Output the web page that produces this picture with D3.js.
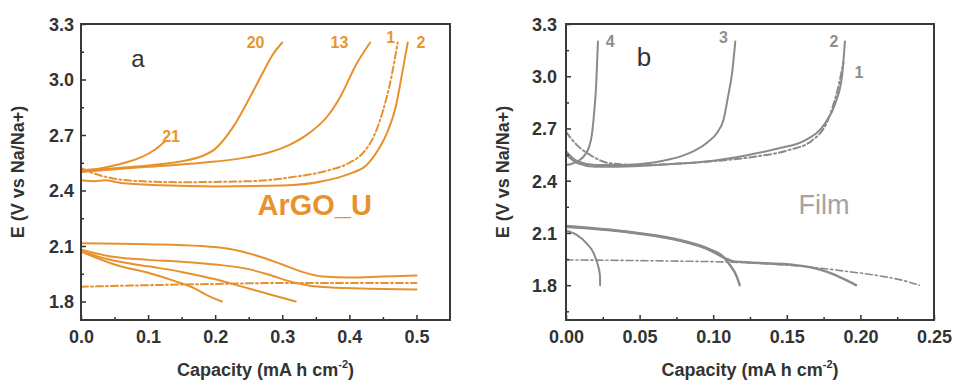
<!DOCTYPE html>
<html>
<head>
<meta charset="utf-8">
<script src="https://cdn.jsdelivr.net/npm/d3@7"></script>
<style>
  html, body { margin: 0; padding: 0; background: #fff; }
  svg { display: block; font-family: "Liberation Sans", Arial, sans-serif; }
</style>
</head>
<body>
<svg id="chart" width="959" height="386"></svg>
<script>
// ---------- Panel a (ArGO_U) data: [capacity, E] ----------
const aCharge1 = [[0,2.52],[0.03,2.48],[0.08,2.452],[0.15,2.445],[0.25,2.45],[0.32,2.475],[0.37,2.51],[0.40,2.55],[0.422,2.61],[0.436,2.69],[0.45,2.83],[0.463,3.02],[0.472,3.2]];
const aCharge2 = [[0,2.455],[0.02,2.45],[0.035,2.455],[0.06,2.44],[0.12,2.428],[0.2,2.422],[0.3,2.427],[0.36,2.45],[0.40,2.49],[0.425,2.535],[0.443,2.62],[0.456,2.71],[0.469,2.85],[0.479,3.04],[0.487,3.2]];
const aCharge13 = [[0,2.5],[0.05,2.515],[0.1,2.528],[0.18,2.55],[0.24,2.575],[0.28,2.605],[0.31,2.645],[0.34,2.71],[0.367,2.80],[0.387,2.91],[0.41,3.08],[0.431,3.2]];
const aCharge20 = [[0,2.51],[0.05,2.52],[0.1,2.535],[0.15,2.558],[0.18,2.585],[0.2,2.625],[0.227,2.745],[0.252,2.905],[0.27,3.03],[0.285,3.13],[0.30,3.2]];
const aCharge21 = [[0,2.5],[0.03,2.52],[0.06,2.545],[0.09,2.58],[0.11,2.62],[0.125,2.665]];
const aDisch1 = [[0,1.88],[0.1,1.888],[0.2,1.895],[0.3,1.9],[0.4,1.9],[0.5,1.9]];
const aDischTop = [[0,2.115],[0.1,2.11],[0.18,2.1],[0.22,2.085],[0.26,2.05],[0.30,2.0],[0.33,1.96],[0.36,1.935],[0.4,1.93],[0.45,1.935],[0.5,1.94]];
const aDischB = [[0,2.08],[0.05,2.04],[0.1,2.025],[0.15,2.015],[0.2,2.0],[0.25,1.975],[0.28,1.945],[0.32,1.9],[0.36,1.878],[0.42,1.87],[0.5,1.865]];
const aDischC = [[0,2.07],[0.05,2.02],[0.1,1.99],[0.15,1.96],[0.2,1.92],[0.25,1.87],[0.29,1.83],[0.32,1.80]];
const aDischD = [[0,2.07],[0.05,2.0],[0.1,1.955],[0.14,1.91],[0.17,1.87],[0.19,1.83],[0.21,1.80]];

// ---------- Panel b (Film) data ----------
const bCharge1 = [[0,2.68],[0.008,2.60],[0.016,2.55],[0.03,2.50],[0.05,2.49],[0.08,2.50],[0.11,2.52],[0.13,2.54],[0.151,2.575],[0.167,2.63],[0.178,2.75],[0.185,2.94],[0.1885,3.08]];
const bCharge2 = [[0,2.55],[0.008,2.50],[0.02,2.48],[0.05,2.485],[0.08,2.50],[0.1,2.515],[0.122,2.545],[0.144,2.585],[0.162,2.63],[0.176,2.73],[0.183,2.845],[0.1875,3.0],[0.1895,3.2]];
const bCharge3 = [[0,2.57],[0.008,2.51],[0.02,2.49],[0.04,2.49],[0.055,2.5],[0.066,2.515],[0.078,2.54],[0.088,2.575],[0.096,2.62],[0.103,2.68],[0.107,2.75],[0.110,2.88],[0.113,3.03],[0.115,3.2]];
const bCharge4 = [[0,2.49],[0.005,2.5],[0.0095,2.52],[0.013,2.55],[0.0155,2.59],[0.0175,2.66],[0.019,2.78],[0.0205,2.95],[0.0217,3.2]];
const bDisch1 = [[0,1.945],[0.06,1.94],[0.12,1.93],[0.15,1.915],[0.17,1.9],[0.19,1.88],[0.212,1.855],[0.23,1.825],[0.24,1.80]];
const bDisch2 = [[0,2.135],[0.041,2.105],[0.075,2.06],[0.098,2.0],[0.108,1.955],[0.115,1.935],[0.125,1.93],[0.156,1.915],[0.17,1.895],[0.178,1.875],[0.19,1.83],[0.197,1.80]];
const bDisch3 = [[0,2.14],[0.041,2.108],[0.075,2.064],[0.098,2.005],[0.106,1.97],[0.111,1.92],[0.116,1.85],[0.118,1.80]];
const bDisch4 = [[0,2.115],[0.007,2.09],[0.014,2.04],[0.019,1.98],[0.0215,1.92],[0.023,1.86],[0.0232,1.80]];

// ---------- Axis ticks / labels ----------
const aXTicks = [0, 0.1, 0.2, 0.3, 0.4, 0.5];
const aXMinor = [0.05, 0.15, 0.25, 0.35, 0.45];
const bXTicks = [0, 0.05, 0.10, 0.15, 0.20, 0.25];
const bXMinor = [0.025, 0.075, 0.125, 0.175, 0.225];
const yTicks = [1.8, 2.1, 2.4, 2.7, 3.0, 3.3];
const aYMinor = [1.95, 2.25, 2.55, 2.85, 3.15];
const bYMinor = [1.65, 1.95, 2.25, 2.55, 2.85, 3.15];

const aCurveLabels = [["21",0.121,2.66],["20",0.247,3.17],["13",0.372,3.17],["1",0.455,3.2],["2",0.5,3.17]];
const bCurveLabels = [["4",0.027,3.17],["3",0.104,3.19],["2",0.179,3.17],["1",0.196,2.99]];

const ORANGE = "#e8912c";
const GRAY = "#8a8a8a";

const svg = d3.select("#chart");

function panel(cfg) {
  const x = d3.scaleLinear().domain(cfg.xDomain).range([cfg.left, cfg.right]);
  const y = d3.scaleLinear().domain(cfg.yDomain).range([cfg.bottom, cfg.top]);
  const g = svg.append("g");

  const line = d3.line().x(d => x(d[0])).y(d => y(d[1])).curve(d3.curveMonotoneX);

  cfg.series.forEach(s => {
    g.append("path").datum(s.data)
      .attr("d", line)
      .attr("fill", "none")
      .attr("stroke", cfg.color)
      .attr("stroke-width", s.w || 2)
      .attr("stroke-linecap", "round")
      .attr("stroke-dasharray", s.dash ? "7,3,2,3" : null);
  });

  // axes
  const xAxis = g.append("g").attr("transform", `translate(0,${cfg.bottom})`)
    .call(d3.axisBottom(x).tickValues(cfg.xTicks).tickFormat(d3.format(cfg.xFmt)).tickSizeInner(-5).tickSizeOuter(0).tickPadding(10));
  g.append("g").attr("transform", `translate(0,${cfg.bottom})`)
    .call(d3.axisBottom(x).tickValues(cfg.xMinor).tickFormat("").tickSizeInner(-3).tickSizeOuter(0));
  const yAxis = g.append("g").attr("transform", `translate(${cfg.left},0)`)
    .call(d3.axisLeft(y).tickValues(yTicks).tickFormat(d3.format(".1f")).tickSizeInner(-5).tickSizeOuter(0).tickPadding(cfg.yPad));
  g.append("g").attr("transform", `translate(${cfg.left},0)`)
    .call(d3.axisLeft(y).tickValues(cfg.yMinor).tickFormat("").tickSizeInner(-3).tickSizeOuter(0));

  g.selectAll(".domain").remove();
  g.selectAll(".tick line").attr("stroke", "#333").attr("stroke-width", 1.5);
  [xAxis, yAxis].forEach(a => a.selectAll("text")
    .attr("font-family", '"Liberation Sans", Arial, sans-serif')
    .attr("font-size", 18).attr("font-weight", "bold").attr("fill", "#333"));
  yAxis.selectAll("text").attr("dy", "0.36em");

  // frame
  g.append("rect").attr("x", cfg.left).attr("y", cfg.top)
    .attr("width", cfg.right - cfg.left).attr("height", cfg.bottom - cfg.top)
    .attr("fill", "none").attr("stroke", "#3a3a3a").attr("stroke-width", 2);

  // axis titles
  const xt = g.append("text").attr("x", (cfg.left + cfg.right) / 2).attr("y", 376)
    .attr("text-anchor", "middle").attr("font-size", 18).attr("font-weight", "bold").attr("fill", "#333");
  xt.append("tspan").text("Capacity (mA h cm");
  xt.append("tspan").attr("font-size", 11).attr("dy", -8).text("-2");
  xt.append("tspan").attr("dy", 8).text(")");

  g.append("text").attr("transform", `translate(${cfg.yTitleX},${(cfg.top + cfg.bottom) / 2}) rotate(-90)`)
    .attr("text-anchor", "middle").attr("font-size", 18).attr("font-weight", "bold").attr("fill", "#333")
    .text("E (V vs Na/Na+)");

  // panel letter
  g.append("text").attr("x", x(cfg.letterPos[0])).attr("y", y(cfg.letterPos[1]))
    .attr("font-size", cfg.letterSize).attr("fill", "#333").text(cfg.letter);

  // name
  g.append("text").attr("x", x(cfg.namePos[0])).attr("y", y(cfg.namePos[1]))
    .attr("font-size", cfg.nameSize).attr("font-weight", cfg.nameWeight).attr("fill", cfg.nameColor).text(cfg.name);

  // curve labels
  cfg.labels.forEach(l => {
    g.append("text").attr("x", x(l[1])).attr("y", y(l[2]))
      .attr("font-size", 16).attr("font-weight", "bold").attr("fill", cfg.labelColor).text(l[0]);
  });
}

panel({
  left: 81, right: 450, top: 24, bottom: 320,
  xDomain: [0, 0.55], yDomain: [1.7, 3.3],
  xTicks: aXTicks, xMinor: aXMinor, yMinor: aYMinor, xFmt: ".1f", yPad: 7,
  color: ORANGE, yTitleX: 24,
  series: [
    {data: aCharge1, dash: true}, {data: aCharge2}, {data: aCharge13}, {data: aCharge20}, {data: aCharge21},
    {data: aDisch1, dash: true}, {data: aDischTop}, {data: aDischB}, {data: aDischC}, {data: aDischD}
  ],
  letter: "a", letterPos: [0.075, 3.07], letterSize: 24,
  name: "ArGO_U", namePos: [0.263, 2.27], nameSize: 29, nameWeight: "bold", nameColor: "#e8922e",
  labels: aCurveLabels, labelColor: "#e8962f"
});

panel({
  left: 566, right: 934, top: 24, bottom: 320,
  xDomain: [0, 0.25], yDomain: [1.6, 3.3],
  xTicks: bXTicks, xMinor: bXMinor, yMinor: bYMinor, xFmt: ".2f", yPad: 9,
  color: GRAY, yTitleX: 509,
  series: [
    {data: bCharge1, dash: true}, {data: bCharge2}, {data: bCharge3}, {data: bCharge4},
    {data: bDisch1, dash: true, w: 1.6}, {data: bDisch2, w: 2.4}, {data: bDisch3, w: 2.4}, {data: bDisch4}
  ],
  letter: "b", letterPos: [0.048, 3.06], letterSize: 26,
  name: "Film", namePos: [0.158, 2.21], nameSize: 27, nameWeight: "normal", nameColor: "#a3a3a3",
  labels: bCurveLabels, labelColor: "#8e8e8e"
});
</script>
</body>
</html>
